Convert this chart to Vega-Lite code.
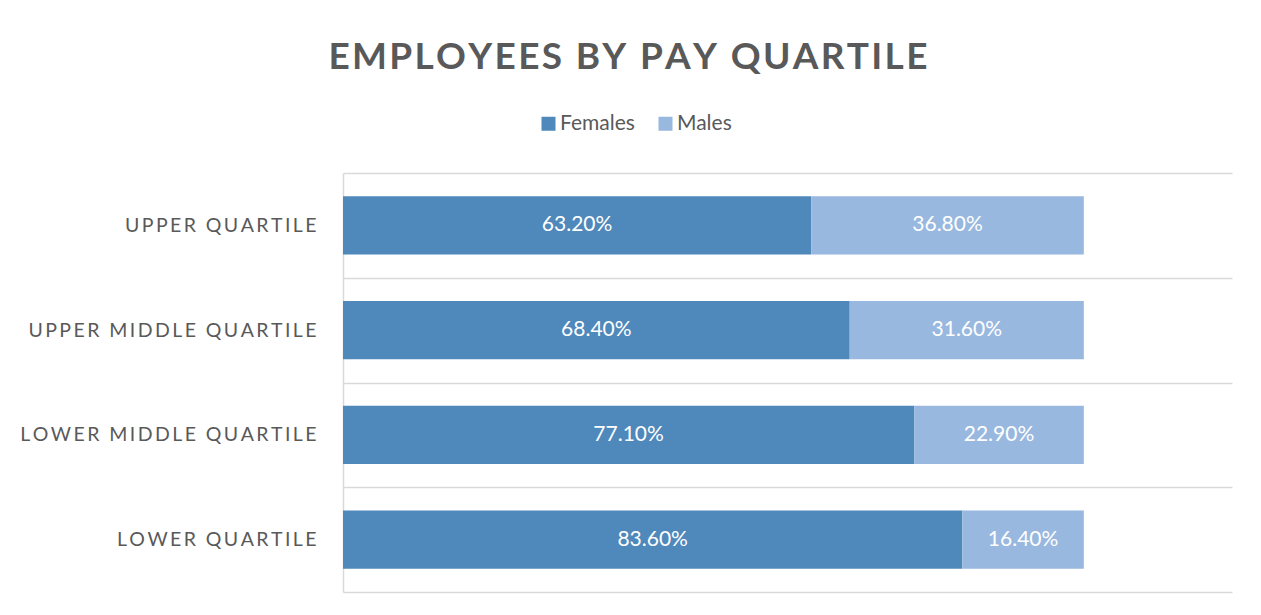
{
  "$schema": "https://vega.github.io/schema/vega-lite/v6.json",
  "autosize": "none",
  "width": 889,
  "height": 419,
  "padding": {"left": 343, "top": 173, "right": 29, "bottom": 23},
  "background": "white",
  "title": {
    "text": {"expr": "join(split('EMPLOYEES BY PAY QUARTILE',''),'\u200a')"},
    "anchor": "middle",
    "frame": "bounds",
    "font": "Lato",
    "fontWeight": "bold",
    "fontSize": 37,
    "color": "#595959",
    "offset": 36,
    "dx": 2
  },
  "data": {
    "values": [
      {"quartile": "UPPER QUARTILE", "sex": "Females", "share": 0.632},
      {"quartile": "UPPER QUARTILE", "sex": "Males", "share": 0.368},
      {"quartile": "UPPER MIDDLE QUARTILE", "sex": "Females", "share": 0.684},
      {"quartile": "UPPER MIDDLE QUARTILE", "sex": "Males", "share": 0.316},
      {"quartile": "LOWER MIDDLE QUARTILE", "sex": "Females", "share": 0.771},
      {"quartile": "LOWER MIDDLE QUARTILE", "sex": "Males", "share": 0.229},
      {"quartile": "LOWER QUARTILE", "sex": "Females", "share": 0.836},
      {"quartile": "LOWER QUARTILE", "sex": "Males", "share": 0.164}
    ]
  },
  "encoding": {
    "y": {
      "field": "quartile",
      "type": "nominal",
      "sort": ["UPPER QUARTILE", "UPPER MIDDLE QUARTILE", "LOWER MIDDLE QUARTILE", "LOWER QUARTILE"],
      "scale": {"paddingInner": 0, "paddingOuter": 0},
      "axis": {
        "title": null,
        "tickBand": "extent",
        "grid": true,
        "gridColor": "#d9d9d9",
        "gridWidth": 1.5,
        "domain": true,
        "domainColor": "#d9d9d9",
        "domainWidth": 1.5,
        "ticks": false,
        "labelFont": "Lato",
        "labelFontSize": 19.5,
        "labelColor": "#595959",
        "labelPadding": 27,
        "labelLimit": 400,
        "labelExpr": "join(split(datum.label,''),'\u2009')"
      }
    },
    "x": {
      "field": "share",
      "type": "quantitative",
      "stack": "zero",
      "scale": {"domain": [0, 1.2], "nice": false},
      "axis": null
    }
  },
  "layer": [
    {
      "mark": {"type": "bar", "height": {"band": 0.554}},
      "encoding": {
        "color": {
          "field": "sex",
          "type": "nominal",
          "scale": {"domain": ["Females", "Males"], "range": ["#4f88bb", "#98b8df"]},
          "legend": {
            "title": null,
            "orient": "none",
            "direction": "horizontal",
            "legendX": 195,
            "legendY": -60,
            "symbolType": "square",
            "symbolSize": 196,
            "symbolStrokeWidth": 0,
            "labelFont": "Lato",
            "labelFontSize": 21,
            "labelColor": "#595959",
            "labelOffset": 1,
            "columnPadding": 20
          }
        },
        "order": {"field": "sex", "sort": "ascending"}
      }
    },
    {
      "mark": {"type": "text", "font": "Lato", "fontSize": 21, "color": "white"},
      "encoding": {
        "x": {"field": "share", "type": "quantitative", "stack": "zero", "bandPosition": 0.5},
        "text": {"field": "share", "type": "quantitative", "format": ".2%"},
        "order": {"field": "sex", "sort": "ascending"}
      }
    }
  ],
  "config": {"view": {"stroke": null}}
}
